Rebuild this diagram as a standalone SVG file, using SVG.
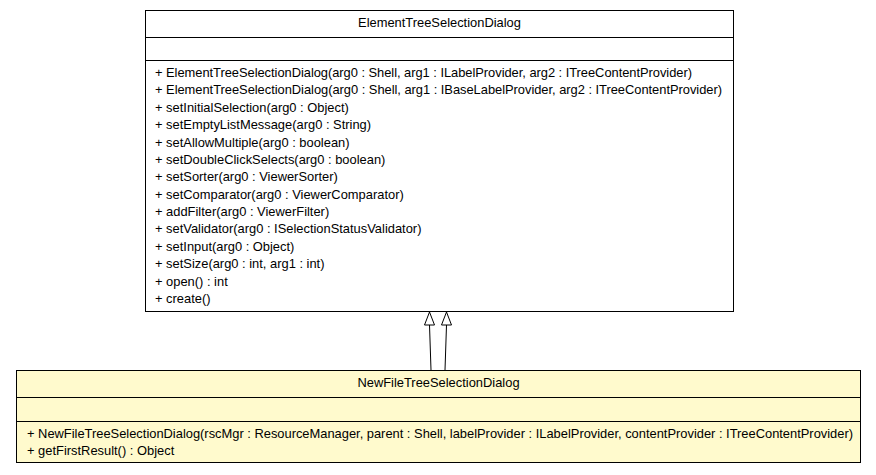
<svg xmlns="http://www.w3.org/2000/svg" width="876" height="475" viewBox="0 0 876 475">
  <style>
    .box { stroke: #000; stroke-width: 1; }
    .sep { stroke: #000; stroke-width: 1; }
    .t { font-family: "Liberation Sans", Arial, sans-serif; font-size: 12.9px; fill: #000; }
    .c { text-anchor: middle; }
    .edge { stroke: #000; stroke-width: 1; fill: none; }
    .head { stroke: #000; stroke-width: 1; fill: #fff; }
  </style>
  <rect width="876" height="475" fill="#fff"/>

  <g id="ElementTreeSelectionDialog">
    <rect class="box" x="145.5" y="10.5" width="588" height="301" fill="#fff"/>
    <line class="sep" x1="145.5" y1="37.5" x2="733.5" y2="37.5"/>
    <line class="sep" x1="145.5" y1="60.5" x2="733.5" y2="60.5"/>
    <text class="t c" x="439.5" y="27">ElementTreeSelectionDialog</text>
    <text class="t" x="155" y="77" textLength="537">+ ElementTreeSelectionDialog(arg0 : Shell, arg1 : ILabelProvider, arg2 : ITreeContentProvider)</text>
    <text class="t" x="155" y="94.4" textLength="567">+ ElementTreeSelectionDialog(arg0 : Shell, arg1 : IBaseLabelProvider, arg2 : ITreeContentProvider)</text>
    <text class="t" x="155" y="111.8">+ setInitialSelection(arg0 : Object)</text>
    <text class="t" x="155" y="129.1">+ setEmptyListMessage(arg0 : String)</text>
    <text class="t" x="155" y="146.5">+ setAllowMultiple(arg0 : boolean)</text>
    <text class="t" x="155" y="163.9">+ setDoubleClickSelects(arg0 : boolean)</text>
    <text class="t" x="155" y="181.3">+ setSorter(arg0 : ViewerSorter)</text>
    <text class="t" x="155" y="198.7">+ setComparator(arg0 : ViewerComparator)</text>
    <text class="t" x="155" y="216">+ addFilter(arg0 : ViewerFilter)</text>
    <text class="t" x="155" y="233.4">+ setValidator(arg0 : ISelectionStatusValidator)</text>
    <text class="t" x="155" y="250.8">+ setInput(arg0 : Object)</text>
    <text class="t" x="155" y="268.2">+ setSize(arg0 : int, arg1 : int)</text>
    <text class="t" x="155" y="285.6">+ open() : int</text>
    <text class="t" x="155" y="303">+ create()</text>
  </g>

  <g id="NewFileTreeSelectionDialog">
    <rect class="box" x="16.5" y="370.5" width="844" height="92" fill="#fffacd"/>
    <line class="sep" x1="16.5" y1="397.5" x2="860.5" y2="397.5"/>
    <line class="sep" x1="16.5" y1="421.5" x2="860.5" y2="421.5"/>
    <text class="t c" x="438.5" y="387">NewFileTreeSelectionDialog</text>
    <text class="t" x="27" y="438" textLength="826">+ NewFileTreeSelectionDialog(rscMgr : ResourceManager, parent : Shell, labelProvider : ILabelProvider, contentProvider : ITreeContentProvider)</text>
    <text class="t" x="27" y="455">+ getFirstResult() : Object</text>
  </g>

  <g id="connectors">
    <line class="edge" x1="431" y1="370" x2="429.5" y2="325"/>
    <polygon class="head" points="429.5,312 424.5,325 434.5,325"/>
    <line class="edge" x1="445" y1="370" x2="446.5" y2="325"/>
    <polygon class="head" points="446.5,312 441.5,325 451.5,325"/>
  </g>
</svg>
